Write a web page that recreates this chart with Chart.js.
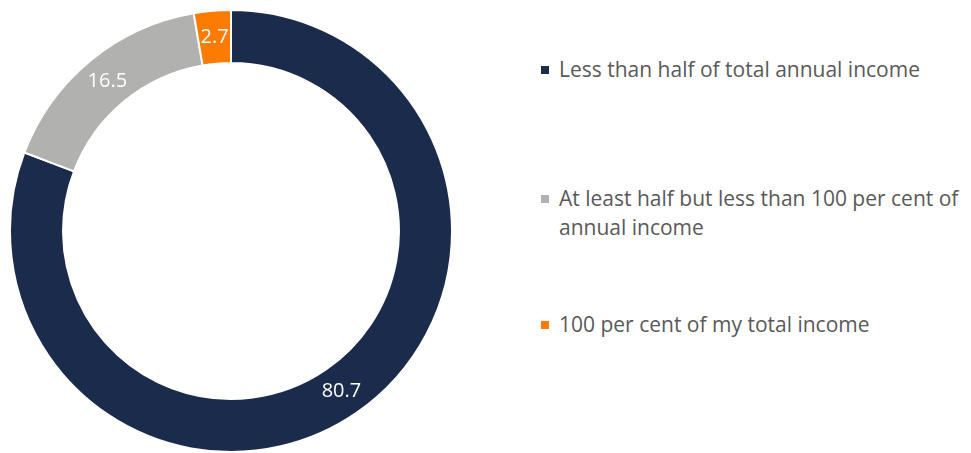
<!DOCTYPE html>
<html>
<head>
<meta charset="utf-8">
<script src="https://cdn.jsdelivr.net/npm/chart.js@4/dist/chart.umd.min.js"></script>
<style>
  html, body { margin: 0; padding: 0; background: #fff; }
  #wrap { position: relative; width: 971px; height: 453px; }
  #donutBox { position: absolute; left: 0; top: 0; width: 463px; height: 453px; }
  #legend { position: absolute; left: 541px; top: 55px; font-family: "Open Sans", sans-serif; font-size: 21px; line-height: 29px; color: #595959; white-space: nowrap; }
  .item { display: flex; align-items: flex-start; }
  .box { width: 8px; height: 8px; margin-top: 11px; margin-right: 10px; flex: none; }
</style>
</head>
<body>
<div id="wrap">
  <div id="donutBox"><canvas id="incomeDonut"></canvas></div>
  <div id="legend"></div>
</div>
<script>
// share of income categories (per cent)
const categories = [
  ["Less than half of total annual income"],
  ["At least half but less than 100 per cent of", "annual income"],
  ["100 per cent of my total income"],
];
const shares = [80.7, 16.5, 2.7];
const sliceColors = ["#1b2b4b", "#b1b1af", "#fd7b00"];

// gaps under each legend entry
const legendGaps = [100, 68, 0];

// white value labels in the middle of each ring segment
const sliceLabels = {
  id: "sliceLabels",
  afterDatasetsDraw(chart) {
    const ctx = chart.ctx;
    const meta = chart.getDatasetMeta(0);
    ctx.save();
    ctx.font = "20px 'Open Sans', sans-serif";
    ctx.fillStyle = "#ffffff";
    ctx.textAlign = "center";
    ctx.textBaseline = "middle";
    meta.data.forEach((arc, i) => {
      const pos = arc.tooltipPosition();
      ctx.fillText(shares[i].toFixed(1), pos.x, pos.y);
    });
    ctx.restore();
  },
};

const ctx = document.getElementById("incomeDonut").getContext("2d");
const incomeDonut = new Chart(ctx, {
  type: "doughnut",
  data: {
    labels: categories.map((c) => c.join(" ")),
    datasets: [
      {
        data: shares,
        backgroundColor: sliceColors,
        borderColor: "#ffffff",
        borderWidth: 2,
      },
    ],
  },
  options: {
    responsive: true,
    maintainAspectRatio: false,
    animation: false,
    cutout: "76%",
    layout: {
      padding: { top: 9, bottom: 0, left: 9, right: 10 },
    },
    plugins: {
      legend: { display: false },
      tooltip: { enabled: false },
    },
  },
  plugins: [sliceLabels],
});

// legend built from the same arrays
const legendEl = document.getElementById("legend");
categories.forEach((lines, i) => {
  const item = document.createElement("div");
  item.className = "item";
  item.style.marginBottom = legendGaps[i] + "px";
  const box = document.createElement("span");
  box.className = "box";
  box.style.background = sliceColors[i];
  const text = document.createElement("span");
  text.innerHTML = lines.join("<br>");
  item.appendChild(box);
  item.appendChild(text);
  legendEl.appendChild(item);
});
</script>
</body>
</html>
